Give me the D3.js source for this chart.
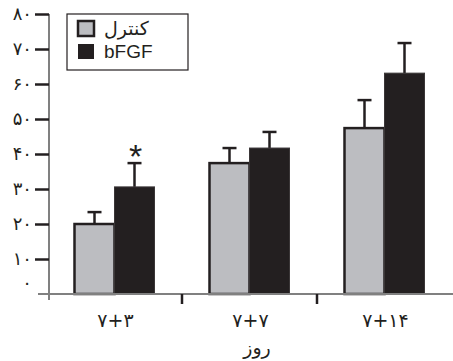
<!DOCTYPE html>
<html><head><meta charset="utf-8">
<script src="https://cdn.jsdelivr.net/npm/d3@7"></script>
<style>body{margin:0;background:#fff}svg{display:block}</style>
</head><body>
<script>
const categories = ["۷+۳", "۷+۷", "۷+۱۴"];
const series = ["کنترل", "bFGF"];
const controlValues = [20, 37.4, 47.4];
const controlErrors = [3.4, 4.3, 8.0];
const bfgfValues = [30.6, 41.7, 63.1];
const bfgfErrors = [6.8, 4.6, 8.6];
const yTicks = [0, 10, 20, 30, 40, 50, 60, 70, 80];
const yTickLabels = ["۰", "۱۰", "۲۰", "۳۰", "۴۰", "۵۰", "۶۰", "۷۰", "۸۰"];
const xTitle = "روز";
const significant = [true, false, false];

const W = 453, H = 361;
const colors = ["#bcbdc1", "#231f20"];
const dark = "#231f20";
const svg = d3.select("body").append("svg").attr("width", W).attr("height", H);

const y = d3.scaleLinear().domain([0, 80]).range([294, 14]);
const x0 = d3.scaleBand().domain(categories).range([47, 452]);
const bw = x0.bandwidth();
const x1 = d3.scaleBand().domain(series).range([bw / 2 - 40, bw / 2 + 40]);

const data = [];
categories.forEach((c, i) => {
  data.push({cat: c, s: series[0], v: controlValues[i], e: controlErrors[i], k: 0});
  data.push({cat: c, s: series[1], v: bfgfValues[i], e: bfgfErrors[i], k: 1});
});

// error bars
const eg = svg.append("g");
data.forEach(d => {
  const cx = x0(d.cat) + x1(d.s) + x1.bandwidth() / 2;
  eg.append("line").attr("x1", cx).attr("x2", cx).attr("y1", y(d.v)).attr("y2", y(d.v + d.e))
    .attr("stroke", dark).attr("stroke-width", 2.5);
  eg.append("line").attr("x1", cx - 7).attr("x2", cx + 7).attr("y1", y(d.v + d.e)).attr("y2", y(d.v + d.e))
    .attr("stroke", dark).attr("stroke-width", 2.5);
});

// bars
svg.append("g").selectAll("rect").data(data).join("rect")
  .attr("x", d => x0(d.cat) + x1(d.s))
  .attr("y", d => y(d.v))
  .attr("width", x1.bandwidth())
  .attr("height", d => y(0) - y(d.v))
  .attr("fill", d => colors[d.k])
  .attr("stroke", d => d.k === 0 ? dark : "#3a3637")
  .attr("stroke-width", d => d.k === 0 ? 2.5 : 1);

// star
categories.forEach((c, i) => {
  if (significant[i]) {
    svg.append("text")
      .attr("x", x0(c) + x1(series[1]) + x1.bandwidth() / 2 + 1)
      .attr("y", y(bfgfValues[i] + bfgfErrors[i]) + 5)
      .attr("text-anchor", "middle")
      .attr("font-family", "Liberation Sans, Arial, sans-serif")
      .attr("font-size", 34).attr("fill", dark).text("*");
  }
});

// x axis line
svg.append("line").attr("x1", 38).attr("x2", 453).attr("y1", y(0)).attr("y2", y(0))
  .attr("stroke", "#808080").attr("stroke-width", 2);

// category separators via axis
const sepAxis = d3.axisBottom(x0).tickValues(categories.slice(1)).tickSize(10).tickFormat("");
const sepG = svg.append("g").attr("transform", `translate(0,${y(0)})`).call(sepAxis);
sepG.select(".domain").remove();
sepG.selectAll(".tick").attr("transform", d => `translate(${x0(d)},0)`);
sepG.selectAll(".tick line").attr("stroke", dark).attr("stroke-width", 2.5);

// category labels
svg.append("g").selectAll("text").data(categories).join("text")
  .attr("x", d => x0(d) + bw / 2 + 1)
  .attr("y", 327)
  .attr("text-anchor", "middle")
  .attr("font-family", "DejaVu Sans, sans-serif")
  .attr("font-size", 19).attr("fill", dark)
  .attr("letter-spacing", -1)
  .style("direction", "ltr").style("unicode-bidi", "bidi-override")
  .text(d => d);

svg.append("text").attr("x", 257).attr("y", 354).attr("text-anchor", "middle")
  .attr("font-family", "DejaVu Sans, sans-serif").attr("font-size", 19).attr("fill", dark)
  .text(xTitle);

// y axis
svg.append("line").attr("x1", 49).attr("x2", 49).attr("y1", y(80)).attr("y2", 300)
  .attr("stroke", "#808080").attr("stroke-width", 2);
const yAxis = d3.axisLeft(y).tickValues(yTicks).tickSize(14).tickSizeOuter(0).tickPadding(3)
  .tickFormat((d, i) => yTickLabels[i]);
const yG = svg.append("g").attr("transform", "translate(49,0)").call(yAxis);
yG.select(".domain").remove();
yG.selectAll(".tick line").attr("stroke", dark).attr("stroke-width", 2.5)
  .attr("display", d => d === 0 ? "none" : null);
yG.selectAll(".tick text").attr("font-family", "DejaVu Sans, sans-serif").attr("font-size", 18)
  .attr("fill", dark).style("direction", "ltr").style("unicode-bidi", "bidi-override");
yG.selectAll(".tick").filter(d => d === 0).select("text").attr("dy", "-0.3em");

// legend
const lg = svg.append("g");
lg.append("rect").attr("x", 67).attr("y", 14).attr("width", 121).attr("height", 56)
  .attr("fill", "#fff").attr("stroke", dark).attr("stroke-width", 1.2);
series.forEach((s, i) => {
  const yy = 21 + i * 23;
  lg.append("rect").attr("x", 78).attr("y", yy).attr("width", 16).attr("height", 15)
    .attr("fill", colors[i]).attr("stroke", dark).attr("stroke-width", i === 0 ? 2.5 : 0);
  lg.append("text").attr("x", 104).attr("y", yy + 14)
    .attr("font-family", i === 0 ? "DejaVu Sans, sans-serif" : "Liberation Sans, Arial, sans-serif")
    .attr("font-size", 19).attr("fill", dark).text(s);
});
</script>
</body></html>
